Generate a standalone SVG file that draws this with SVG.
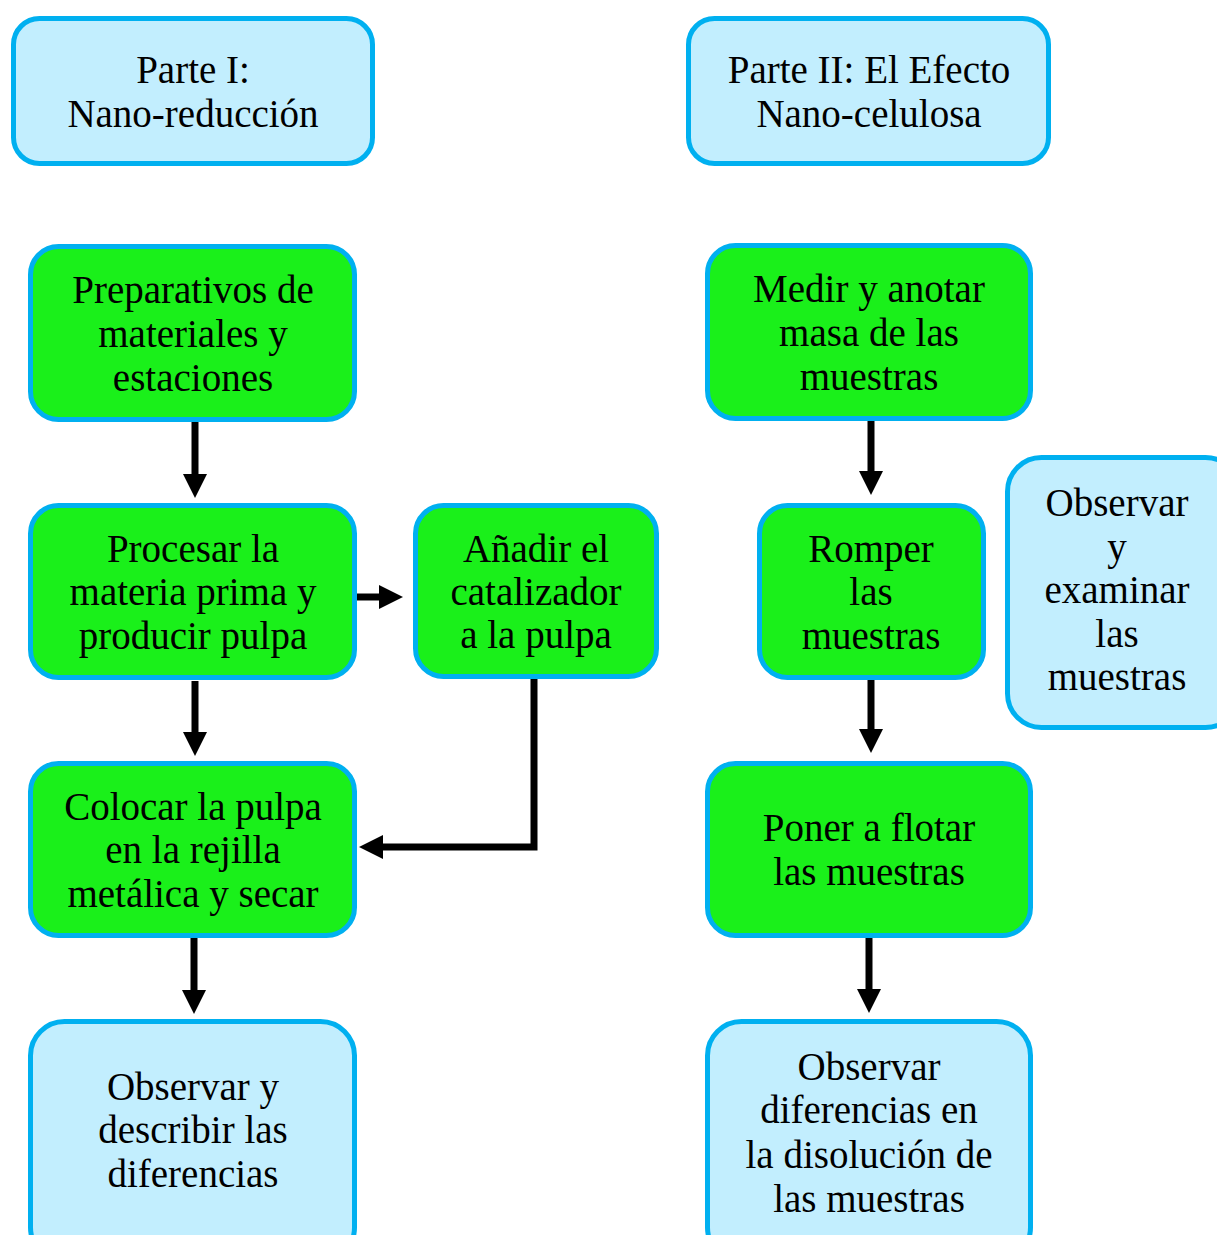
<svg xmlns="http://www.w3.org/2000/svg" width="1217" height="1235" viewBox="0 0 1217 1235">
<defs>
<style>
.g{fill:#1af01a;stroke:#00b0f0;stroke-width:5}
.b{fill:#c2eefe;stroke:#00b0f0;stroke-width:5}
text{font-family:"Liberation Serif","Times New Roman",serif;font-size:39px;fill:#000;text-anchor:middle}
.c{fill:none;stroke:#000;stroke-width:7;stroke-linejoin:miter}
</style>
<marker id="ah" markerUnits="userSpaceOnUse" markerWidth="24" markerHeight="24" viewBox="0 -12 24 24" refX="0" refY="0" orient="auto" overflow="visible">
<path d="M0,-12 L24,0 L0,12 z" fill="#000"/>
</marker>
</defs>
<rect width="1217" height="1235" fill="#fff"/>
<g id="connectors">
<path class="c" d="M195,422 V474" marker-end="url(#ah)"/>
<path class="c" d="M195,681 V732" marker-end="url(#ah)"/>
<path class="c" d="M194,938 V990" marker-end="url(#ah)"/>
<path class="c" d="M357,597 H379" marker-end="url(#ah)"/>
<path class="c" d="M534,679 V847 H383" marker-end="url(#ah)"/>
<path class="c" d="M871,421 V471" marker-end="url(#ah)"/>
<path class="c" d="M871,680 V729" marker-end="url(#ah)"/>
<path class="c" d="M869,938 V989" marker-end="url(#ah)"/>
</g>
<g id="parte1">
<rect class="b" x="13.5" y="18.5" width="359" height="145" rx="26"/>
<text x="193" y="83">Parte I:</text>
<text x="193" y="127">Nano-reducción</text>
</g>
<g id="parte2">
<rect class="b" x="688.5" y="18.5" width="360" height="145" rx="26"/>
<text x="869" y="83">Parte II: El Efecto</text>
<text x="869" y="127">Nano-celulosa</text>
</g>
<g id="preparativos">
<rect class="g" x="30.5" y="246.5" width="324" height="173" rx="28"/>
<text x="193" y="303">Preparativos de</text>
<text x="193" y="347">materiales y</text>
<text x="193" y="391">estaciones</text>
</g>
<g id="medir">
<rect class="g" x="707.5" y="245.5" width="323" height="173" rx="28"/>
<text x="869" y="302">Medir y anotar</text>
<text x="869" y="346">masa de las</text>
<text x="869" y="390">muestras</text>
</g>
<g id="procesar">
<rect class="g" x="30.5" y="505.5" width="324" height="172" rx="28"/>
<text x="193" y="562">Procesar la</text>
<text x="193" y="605">materia prima y</text>
<text x="193" y="649">producir pulpa</text>
</g>
<g id="anadir">
<rect class="g" x="415.5" y="505.5" width="241" height="171" rx="28"/>
<text x="536" y="562">Añadir el</text>
<text x="536" y="605">catalizador</text>
<text x="536" y="648">a la pulpa</text>
</g>
<g id="romper">
<rect class="g" x="759.5" y="505.5" width="224" height="172" rx="28"/>
<text x="871" y="562">Romper</text>
<text x="871" y="605">las</text>
<text x="871" y="649">muestras</text>
</g>
<g id="examinar">
<rect class="b" x="1007.5" y="457.5" width="232" height="270" rx="34"/>
<text x="1117" y="516">Observar</text>
<text x="1117" y="560">y</text>
<text x="1117" y="603">examinar</text>
<text x="1117" y="647">las</text>
<text x="1117" y="690">muestras</text>
</g>
<g id="colocar">
<rect class="g" x="30.5" y="763.5" width="324" height="172" rx="28"/>
<text x="193" y="820">Colocar la pulpa</text>
<text x="193" y="863">en la rejilla</text>
<text x="193" y="907">metálica y secar</text>
</g>
<g id="poner">
<rect class="g" x="707.5" y="763.5" width="323" height="172" rx="28"/>
<text x="869" y="841">Poner a flotar</text>
<text x="869" y="885">las muestras</text>
</g>
<g id="describir">
<rect class="b" x="30.5" y="1021.5" width="324" height="240" rx="34"/>
<text x="193" y="1100">Observar y</text>
<text x="193" y="1143">describir las</text>
<text x="193" y="1187">diferencias</text>
</g>
<g id="diferencias">
<rect class="b" x="707.5" y="1021.5" width="323" height="240" rx="34"/>
<text x="869" y="1080">Observar</text>
<text x="869" y="1123">diferencias en</text>
<text x="869" y="1168">la disolución de</text>
<text x="869" y="1212">las muestras</text>
</g>
</svg>
